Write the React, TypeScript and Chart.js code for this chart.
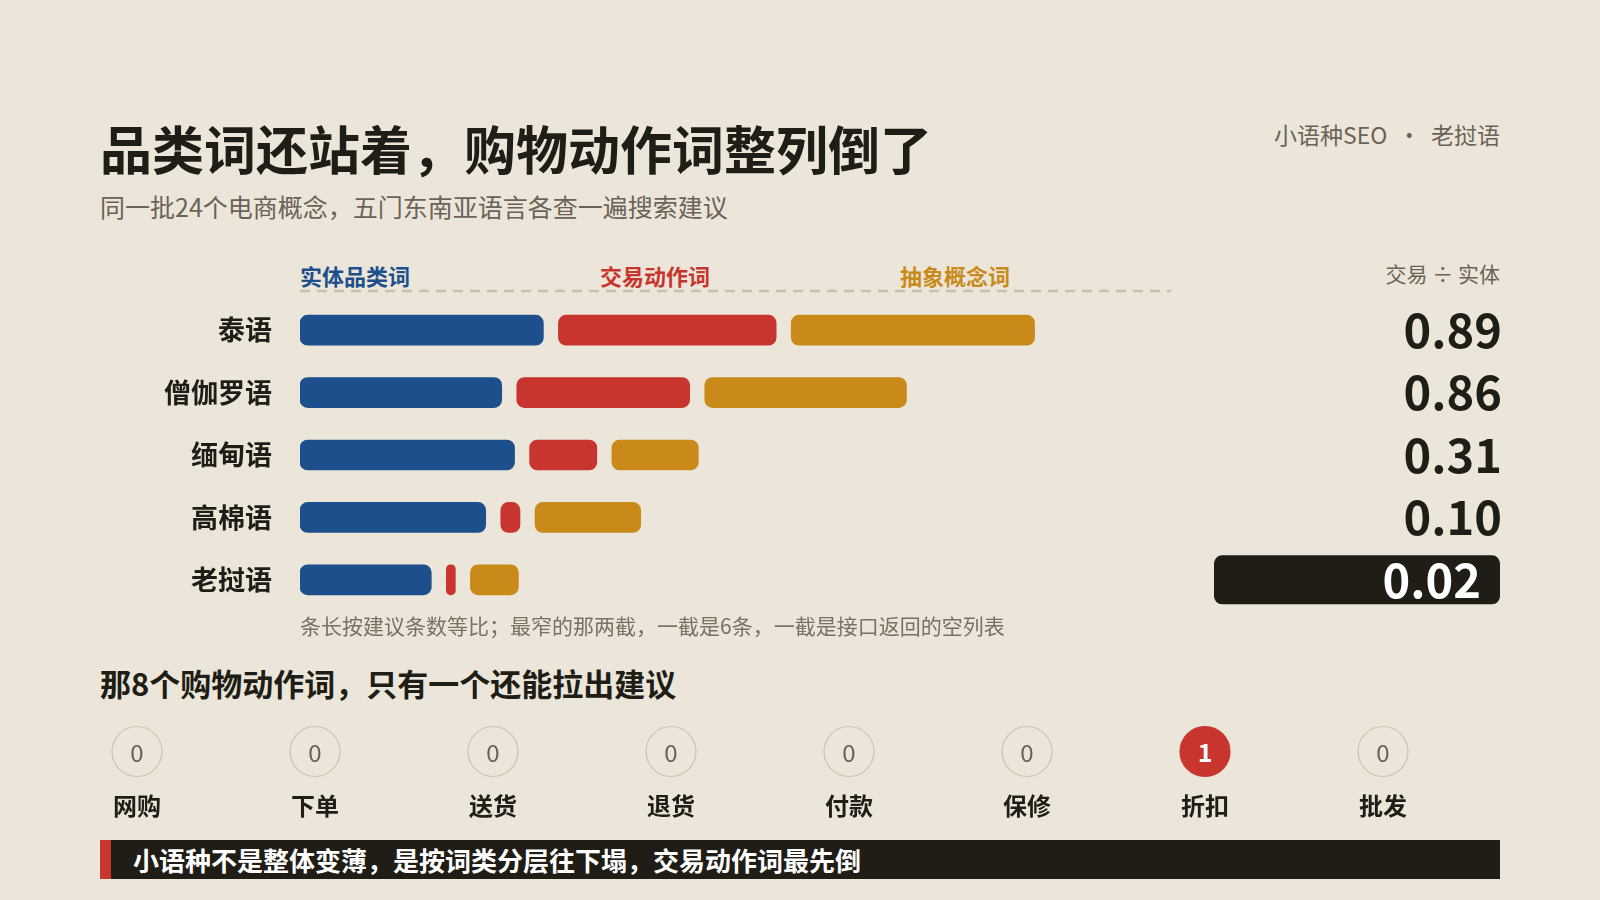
import React, { useEffect, useRef } from "react";
import { Chart, registerables } from "chart.js";

Chart.register(...registerables);

// ---------- data ----------
const LANGUAGES = ["泰语", "僧伽罗语", "缅甸语", "高棉语", "老挝语"];
const ENTITY = [76, 63, 67, 58, 41];
const TRADE = [68, 54, 21, 6, 1];
const ABSTRACT = [76, 63, 27, 33, 15];
const RATIO_LABELS = ["0.89", "0.86", "0.31", "0.10", "0.02"];
const CATEGORY_NAMES = ["实体品类词", "交易动作词", "抽象概念词"];
const VERB_ROW = ["老挝语"];
const VERBS = ["网购", "下单", "送货", "退货", "付款", "保修", "折扣", "批发"];
const VERB_COUNTS = [0, 0, 0, 0, 0, 0, 1, 0];

// ---------- style ----------
const FONT = '"Noto Sans CJK SC", "Noto Sans", sans-serif';
const BG = "#ebe6d9";
const DARK = "#201d16";
const MUTED = "#6b6258";
const BLUE = "#1c4f8c";
const RED = "#c8352e";
const GOLD = "#c98a1a";
const CAT_COLORS = [BLUE, RED, GOLD];
const X_MAX = 272;
const GAP = 4.7;
const MIN_PX = 9;
const MIN_UNITS = MIN_PX / 3.2;

Chart.defaults.font.family = FONT;

const ratioPlugin = {
  id: "ratioColumn",
  afterDraw(chart: any) {
    const ctx = chart.ctx;
    const y = chart.scales.y;
    ctx.save();
    RATIO_LABELS.forEach((lab, i) => {
      const cy = y.getPixelForValue(i);
      const last = i === RATIO_LABELS.length - 1;
      if (last) {
        ctx.fillStyle = DARK;
        ctx.beginPath();
        (ctx as any).roundRect(1214, cy - 24.5, 286, 49, 8);
        ctx.fill();
      }
      ctx.font = `bold 47px ${FONT}`;
      ctx.textAlign = "right";
      ctx.textBaseline = "middle";
      ctx.fillStyle = last ? "#ffffff" : DARK;
      ctx.fillText(lab, last ? 1481 : 1502, cy);
    });
    ctx.restore();
  },
};

const countPlugin = {
  id: "countLabels",
  afterDatasetsDraw(chart: any) {
    const ctx = chart.ctx;
    const meta = chart.getDatasetMeta(0);
    ctx.save();
    ctx.textAlign = "center";
    ctx.textBaseline = "middle";
    meta.data.forEach((pt: any, i: number) => {
      const c = VERB_COUNTS[i];
      ctx.font = c > 0 ? `bold 25px ${FONT}` : `24px ${FONT}`;
      ctx.fillStyle = c > 0 ? "#ffffff" : MUTED;
      ctx.fillText(String(c), pt.x, pt.y + 1);
    });
    ctx.restore();
  },
};

function BarsChart() {
  const ref = useRef<HTMLCanvasElement>(null);
  useEffect(() => {
    const blue = ENTITY.map((e) => [0, e]);
    const red = ENTITY.map((e, i) => [e + GAP, e + GAP + TRADE[i]]);
    const gold = ENTITY.map((e, i) => {
      const s = e + GAP + Math.max(TRADE[i], MIN_UNITS) + GAP;
      return [s, s + ABSTRACT[i]];
    });
    const common = {
      barThickness: 30,
      borderRadius: 8,
      borderSkipped: false,
      grouped: false,
    };
    const chart = new Chart(ref.current!, {
      type: "bar",
      data: {
        labels: LANGUAGES,
        datasets: [
          { label: CATEGORY_NAMES[0], data: blue, backgroundColor: BLUE, ...common },
          { label: CATEGORY_NAMES[1], data: red, backgroundColor: RED, minBarLength: MIN_PX, ...common },
          { label: CATEGORY_NAMES[2], data: gold, backgroundColor: GOLD, ...common },
        ] as any,
      },
      options: {
        indexAxis: "y",
        responsive: false,
        animation: false,
        layout: { padding: { left: 0, right: 429, top: 0, bottom: 0 } },
        plugins: { legend: { display: false }, tooltip: { enabled: false } },
        scales: {
          x: { type: "linear", min: 0, max: X_MAX, display: false },
          y: {
            type: "category",
            grid: { display: false },
            border: { display: false },
            ticks: {
              font: { family: FONT, size: 27, weight: "bold" },
              color: DARK,
              padding: 20,
            },
            afterFit(s: any) {
              s.width = 300;
              s.paddingTop = 0;
              s.paddingBottom = 0;
            },
          },
        },
      } as any,
      plugins: [ratioPlugin],
    });
    return () => chart.destroy();
  }, []);
  return (
    <canvas
      ref={ref}
      width={1600}
      height={312}
      style={{ position: "absolute", left: 0, top: 299, width: 1600, height: 312 }}
    />
  );
}

function VerbChart() {
  const ref = useRef<HTMLCanvasElement>(null);
  useEffect(() => {
    const chart = new Chart(ref.current!, {
      type: "line",
      data: {
        datasets: [
          {
            data: VERBS.map((v) => ({ x: v, y: VERB_ROW[0] })),
            showLine: false,
            pointRadius: 25,
            pointHoverRadius: 25,
            pointBorderWidth: 1.2,
            pointBackgroundColor: VERB_COUNTS.map((c) => (c > 0 ? RED : "rgba(0,0,0,0)")),
            pointBorderColor: VERB_COUNTS.map((c) => (c > 0 ? RED : "#cdc3b1")),
            clip: false,
          },
        ] as any,
      },
      options: {
        responsive: false,
        animation: false,
        layout: { autoPadding: false, padding: { top: 25, left: 0, right: 0, bottom: 0 } },
        plugins: { legend: { display: false }, tooltip: { enabled: false } },
        scales: {
          x: {
            type: "category",
            labels: VERBS,
            offset: true,
            grid: { display: false },
            border: { display: false },
            ticks: {
              font: { family: FONT, size: 24, weight: "bold" },
              color: DARK,
              padding: 9,
              maxRotation: 0,
            },
            afterFit(s: any) {
              s.height = 50;
              s.paddingLeft = 0;
              s.paddingRight = 0;
            },
          },
          y: { type: "category", labels: VERB_ROW, offset: true, display: false },
        },
      } as any,
      plugins: [countPlugin],
    });
    return () => chart.destroy();
  }, []);
  return (
    <canvas
      ref={ref}
      width={1424}
      height={120}
      style={{ position: "absolute", left: 48, top: 704, width: 1424, height: 120 }}
    />
  );
}

const txt = (
  top: number,
  size: number,
  extra: React.CSSProperties
): React.CSSProperties => ({
  position: "absolute",
  top: top - size / 2,
  fontSize: size,
  lineHeight: 1,
  whiteSpace: "nowrap",
  fontFamily: FONT,
  ...extra,
});

export default function App() {
  return (
    <div
      style={{
        position: "fixed",
        left: 0,
        top: 0,
        width: 1600,
        height: 900,
        background: BG,
        overflow: "hidden",
        fontFamily: FONT,
      }}
    >
      <div style={txt(148, 52, { left: 100, fontWeight: 700, color: DARK })}>
        品类词还站着，购物动作词整列倒了
      </div>
      <div style={txt(206, 25, { left: 100, color: MUTED })}>
        同一批24个电商概念，五门东南亚语言各查一遍搜索建议
      </div>
      <div style={txt(134, 23, { right: 100, color: MUTED })}>小语种SEO&nbsp;&nbsp;·&nbsp;&nbsp;老挝语</div>
      <div style={txt(273, 21, { right: 100, color: MUTED })}>交易 ÷ 实体</div>
      {CATEGORY_NAMES.map((n, i) => (
        <div
          key={n}
          style={txt(275, 22, { left: 300 + i * 300, fontWeight: 700, color: CAT_COLORS[i] })}
        >
          {n}
        </div>
      ))}
      <svg
        width={1600}
        height={10}
        style={{ position: "absolute", left: 0, top: 286 }}
      >
        <line
          x1={300}
          y1={5}
          x2={1171}
          y2={5}
          stroke="#cbbfaa"
          strokeWidth={2.5}
          strokeDasharray="10 7"
        />
      </svg>
      <BarsChart />
      <div style={txt(625, 21, { left: 300, color: "#7a7064" })}>
        条长按建议条数等比；最窄的那两截，一截是6条，一截是接口返回的空列表
      </div>
      <div style={txt(682, 31, { left: 100, fontWeight: 700, color: DARK })}>
        那8个购物动作词，只有一个还能拉出建议
      </div>
      <VerbChart />
      <div
        style={{
          position: "absolute",
          left: 100,
          top: 840,
          width: 1400,
          height: 39,
          boxSizing: "border-box",
          background: DARK,
          borderLeft: `11px solid ${RED}`,
        }}
      />
      <div style={txt(860, 26, { left: 133, fontWeight: 700, color: "#ffffff" })}>
        小语种不是整体变薄，是按词类分层往下塌，交易动作词最先倒
      </div>
    </div>
  );
}
